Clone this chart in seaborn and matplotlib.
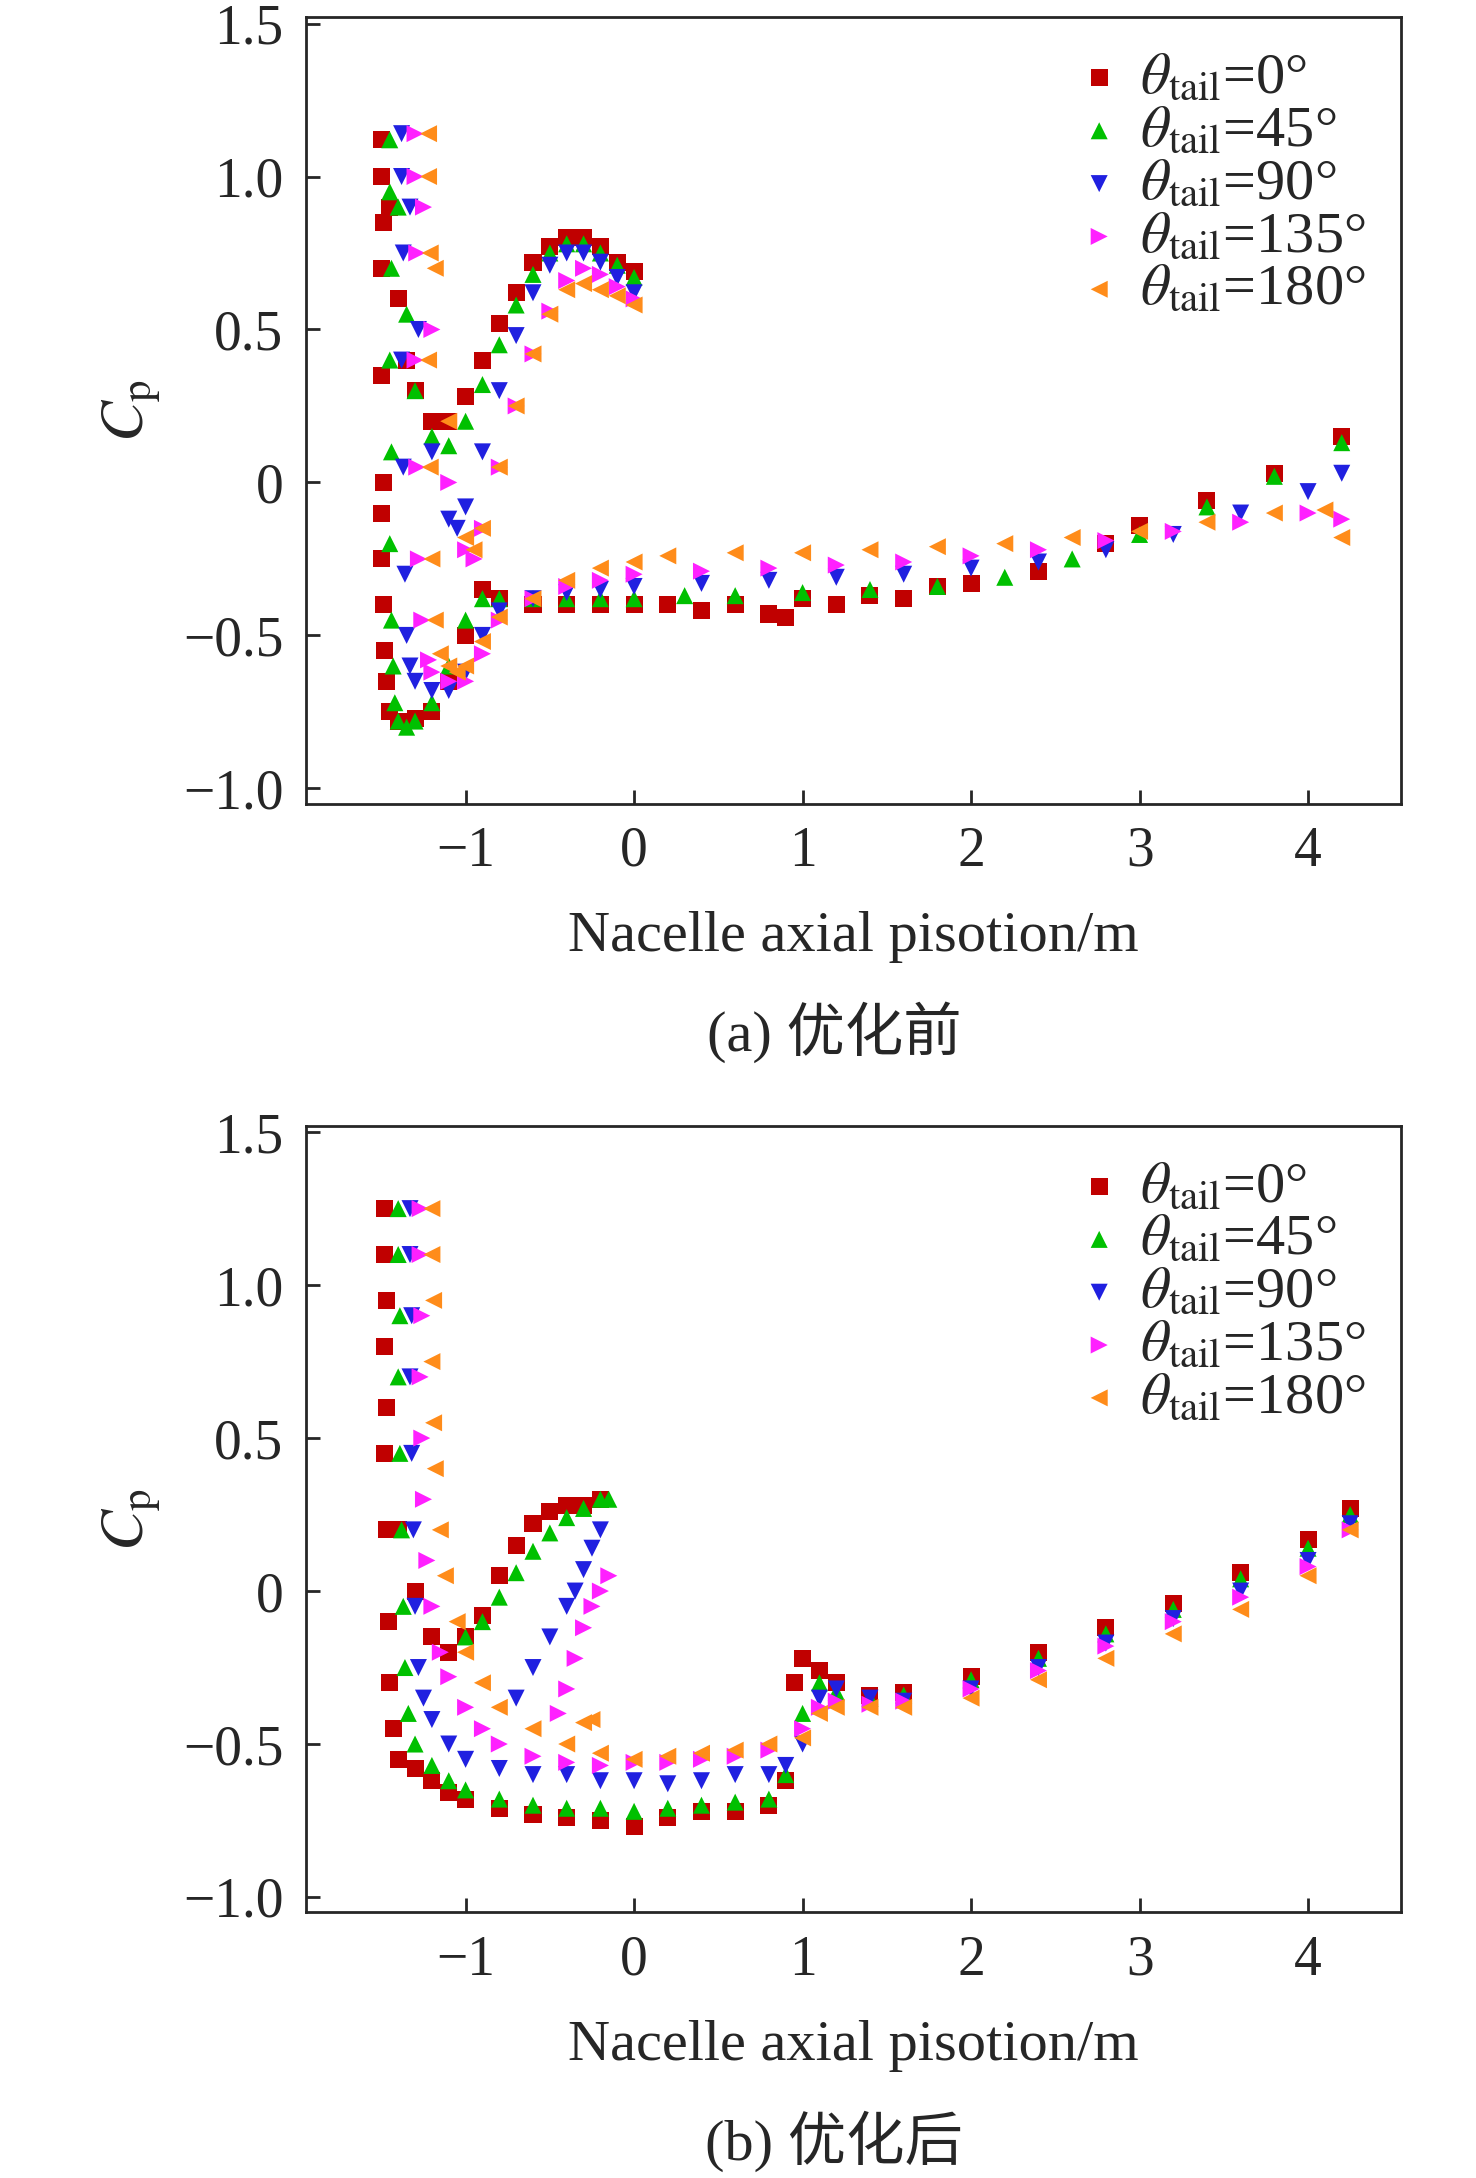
import numpy as np
import pandas as pd
import seaborn as sns
import matplotlib
matplotlib.use('Agg')
from matplotlib import pyplot as plt

sns.set_style('ticks')
plt.rcParams['font.family'] = ['Liberation Serif', 'Noto Sans CJK SC']
plt.rcParams['mathtext.fontset'] = 'stix'

angles = ['0', '45', '90', '135', '180']
colors = ['#c00000', '#00c000', '#2020e0', '#ff20ff', '#ff8c1a']
markers = ['s', '^', 'v', '>', '<']

# panel (a) before optimisation: x, y per angle
a_x = {
    '0': [-1.5, -1.5, -1.49, -1.5, -1.5, -1.49, -1.5, -1.5, -1.49, -1.48, -1.47,
          -1.45, -1.4, -1.3, -1.2, -1.1, -1.0, -0.9, -0.8, -0.6, -0.4, -0.2, 0.0, 0.2, 0.4, 0.6, 0.8, 0.9, 1.0, 1.2, 1.4, 1.6, 1.8, 2.0, 2.4, 2.8, 3.0, 3.4, 3.8, 4.2,
          -1.45, -1.4, -1.35, -1.3, -1.2, -1.1, -1.0, -0.9, -0.8, -0.7, -0.6, -0.5, -0.4, -0.3, -0.2, -0.1, 0.0],
    '45': [-1.45, -1.45, -1.44, -1.45, -1.44, -1.45, -1.44, -1.43, -1.42,
           -1.4, -1.35, -1.3, -1.2, -1.1, -1.0, -0.9, -0.8, -0.6, -0.4, -0.2, 0.0, 0.3, 0.6, 1.0, 1.4, 1.8, 2.2, 2.6, 3.0, 3.4, 3.8, 4.2,
           -1.4, -1.35, -1.3, -1.2, -1.1, -1.0, -0.9, -0.8, -0.7, -0.6, -0.5, -0.4, -0.3, -0.2, -0.1, 0.0],
    '90': [-1.38, -1.38, -1.37, -1.38, -1.37, -1.36, -1.35, -1.33,
           -1.3, -1.2, -1.1, -1.0, -0.9, -0.8, -0.6, -0.4, -0.2, 0.0, 0.4, 0.8, 1.2, 1.6, 2.0, 2.4, 2.8, 3.2, 3.6, 4.0, 4.2,
           -1.33, -1.28, -1.2, -1.1, -1.05, -1.0, -0.9, -0.8, -0.7, -0.6, -0.5, -0.4, -0.3, -0.2, -0.1, 0.0],
    '135': [-1.3, -1.3, -1.29, -1.3, -1.29, -1.28, -1.26, -1.22,
            -1.2, -1.1, -1.0, -0.9, -0.8, -0.6, -0.4, -0.2, 0.0, 0.4, 0.8, 1.2, 1.6, 2.0, 2.4, 2.8, 3.2, 3.6, 4.0, 4.2,
            -1.25, -1.2, -1.1, -1.0, -0.95, -0.9, -0.8, -0.7, -0.6, -0.5, -0.4, -0.3, -0.2, -0.1, 0.0],
    '180': [-1.22, -1.22, -1.21, -1.22, -1.21, -1.2, -1.18, -1.15,
            -1.1, -1.05, -1.0, -0.9, -0.8, -0.6, -0.4, -0.2, 0.0, 0.2, 0.6, 1.0, 1.4, 1.8, 2.2, 2.6, 3.0, 3.4, 3.8, 4.1, 4.2,
            -1.18, -1.1, -1.0, -0.95, -0.9, -0.8, -0.7, -0.6, -0.5, -0.4, -0.3, -0.2, -0.1, 0.0],
}
a_y = {
    '0': [1.12, 1.0, 0.85, 0.7, 0.35, 0.0, -0.1, -0.25, -0.4, -0.55, -0.65,
          -0.75, -0.78, -0.77, -0.75, -0.65, -0.5, -0.35, -0.38, -0.40, -0.40, -0.40, -0.40, -0.40, -0.42, -0.40, -0.43, -0.44, -0.38, -0.40, -0.37, -0.38, -0.34, -0.33, -0.29, -0.20, -0.14, -0.06, 0.03, 0.15,
          0.9, 0.6, 0.4, 0.3, 0.2, 0.2, 0.28, 0.4, 0.52, 0.62, 0.72, 0.77, 0.80, 0.80, 0.77, 0.72, 0.69],
    '45': [1.12, 0.95, 0.7, 0.4, 0.1, -0.2, -0.45, -0.6, -0.72,
           -0.78, -0.8, -0.78, -0.72, -0.6, -0.45, -0.38, -0.38, -0.38, -0.38, -0.38, -0.38, -0.37, -0.37, -0.36, -0.35, -0.34, -0.31, -0.25, -0.17, -0.08, 0.02, 0.13,
           0.9, 0.55, 0.3, 0.15, 0.12, 0.2, 0.32, 0.45, 0.58, 0.68, 0.75, 0.78, 0.78, 0.75, 0.71, 0.67],
    '90': [1.14, 1.0, 0.75, 0.4, 0.05, -0.3, -0.5, -0.6,
           -0.65, -0.68, -0.68, -0.62, -0.5, -0.42, -0.38, -0.36, -0.35, -0.34, -0.33, -0.32, -0.31, -0.3, -0.28, -0.26, -0.22, -0.17, -0.1, -0.03, 0.03,
           0.9, 0.5, 0.1, -0.12, -0.15, -0.08, 0.1, 0.3, 0.48, 0.62, 0.71, 0.75, 0.75, 0.72, 0.67, 0.62],
    '135': [1.14, 1.0, 0.75, 0.4, 0.05, -0.25, -0.45, -0.58,
            -0.62, -0.65, -0.65, -0.56, -0.45, -0.38, -0.34, -0.32, -0.3, -0.29, -0.28, -0.27, -0.26, -0.24, -0.22, -0.19, -0.16, -0.13, -0.1, -0.12,
            0.9, 0.5, 0.0, -0.22, -0.25, -0.15, 0.05, 0.25, 0.42, 0.56, 0.66, 0.7, 0.68, 0.64, 0.6],
    '180': [1.14, 1.0, 0.75, 0.4, 0.05, -0.25, -0.45, -0.56,
            -0.6, -0.62, -0.6, -0.52, -0.44, -0.38, -0.32, -0.28, -0.26, -0.24, -0.23, -0.23, -0.22, -0.21, -0.2, -0.18, -0.16, -0.13, -0.1, -0.09, -0.18,
            0.7, 0.2, -0.18, -0.22, -0.15, 0.05, 0.25, 0.42, 0.55, 0.63, 0.65, 0.63, 0.61, 0.58],
}

# panel (b) after optimisation
b_x = {
    '0': [-1.48, -1.48, -1.47, -1.48, -1.47, -1.48, -1.47, -1.46, -1.45, -1.43,
          -1.4, -1.3, -1.2, -1.1, -1.0, -0.8, -0.6, -0.4, -0.2, 0.0, 0.2, 0.4, 0.6, 0.8, 0.9, 0.95, 1.0, 1.1, 1.2, 1.4, 1.6, 2.0, 2.4, 2.8, 3.2, 3.6, 4.0, 4.25,
          -1.4, -1.3, -1.2, -1.1, -1.0, -0.9, -0.8, -0.7, -0.6, -0.5, -0.4, -0.3, -0.2],
    '45': [-1.4, -1.4, -1.39, -1.4, -1.39, -1.38, -1.37, -1.36, -1.34,
           -1.3, -1.2, -1.1, -1.0, -0.8, -0.6, -0.4, -0.2, 0.0, 0.2, 0.4, 0.6, 0.8, 0.9, 1.0, 1.1, 1.2, 1.4, 1.6, 2.0, 2.4, 2.8, 3.2, 3.6, 4.0, 4.25,
           -1.0, -0.9, -0.8, -0.7, -0.6, -0.5, -0.4, -0.3, -0.2, -0.15],
    '90': [-1.33, -1.33, -1.32, -1.33, -1.32, -1.31, -1.3, -1.28,
           -1.25, -1.2, -1.1, -1.0, -0.8, -0.6, -0.4, -0.2, 0.0, 0.2, 0.4, 0.6, 0.8, 0.9, 1.0, 1.1, 1.2, 1.4, 1.6, 2.0, 2.4, 2.8, 3.2, 3.6, 4.0, 4.25,
           -0.7, -0.6, -0.5, -0.4, -0.35, -0.3, -0.25, -0.2],
    '135': [-1.27, -1.27, -1.26, -1.27, -1.26, -1.25, -1.23, -1.2,
            -1.15, -1.1, -1.0, -0.9, -0.8, -0.6, -0.4, -0.2, 0.0, 0.2, 0.4, 0.6, 0.8, 1.0, 1.1, 1.2, 1.4, 1.6, 2.0, 2.4, 2.8, 3.2, 3.6, 4.0, 4.25,
            -0.45, -0.4, -0.35, -0.3, -0.25, -0.2, -0.15],
    '180': [-1.2, -1.2, -1.19, -1.2, -1.19, -1.18, -1.15, -1.12,
            -1.05, -1.0, -0.9, -0.8, -0.6, -0.4, -0.2, 0.0, 0.2, 0.4, 0.6, 0.8, 1.0, 1.1, 1.2, 1.4, 1.6, 2.0, 2.4, 2.8, 3.2, 3.6, 4.0, 4.25,
            -0.3, -0.25],
}
b_y = {
    '0': [1.25, 1.1, 0.95, 0.8, 0.6, 0.45, 0.2, -0.1, -0.3, -0.45,
          -0.55, -0.58, -0.62, -0.66, -0.68, -0.71, -0.73, -0.74, -0.75, -0.77, -0.74, -0.72, -0.72, -0.7, -0.62, -0.3, -0.22, -0.26, -0.3, -0.34, -0.33, -0.28, -0.2, -0.12, -0.04, 0.06, 0.17, 0.27,
          0.2, 0.0, -0.15, -0.2, -0.15, -0.08, 0.05, 0.15, 0.22, 0.26, 0.28, 0.28, 0.3],
    '45': [1.25, 1.1, 0.9, 0.7, 0.45, 0.2, -0.05, -0.25, -0.4,
           -0.5, -0.57, -0.62, -0.65, -0.68, -0.7, -0.71, -0.71, -0.72, -0.71, -0.7, -0.69, -0.68, -0.6, -0.4, -0.3, -0.33, -0.35, -0.34, -0.29, -0.22, -0.14, -0.06, 0.04, 0.14, 0.25,
           -0.15, -0.1, -0.02, 0.06, 0.13, 0.19, 0.24, 0.27, 0.3, 0.3],
    '90': [1.25, 1.1, 0.9, 0.7, 0.45, 0.2, -0.05, -0.25,
           -0.35, -0.42, -0.5, -0.55, -0.58, -0.6, -0.6, -0.62, -0.62, -0.63, -0.62, -0.6, -0.6, -0.57, -0.5, -0.35, -0.32, -0.35, -0.36, -0.32, -0.25, -0.17, -0.09, 0.0, 0.1, 0.22,
           -0.35, -0.25, -0.15, -0.05, 0.0, 0.07, 0.14, 0.2],
    '135': [1.25, 1.1, 0.9, 0.7, 0.5, 0.3, 0.1, -0.05,
            -0.2, -0.28, -0.38, -0.45, -0.5, -0.54, -0.56, -0.57, -0.56, -0.56, -0.55, -0.54, -0.52, -0.45, -0.38, -0.36, -0.37, -0.36, -0.32, -0.26, -0.18, -0.1, -0.02, 0.08, 0.2,
            -0.4, -0.32, -0.22, -0.12, -0.05, 0.0, 0.05],
    '180': [1.25, 1.1, 0.95, 0.75, 0.55, 0.4, 0.2, 0.05,
            -0.1, -0.2, -0.3, -0.38, -0.45, -0.5, -0.53, -0.55, -0.54, -0.53, -0.52, -0.5, -0.48, -0.4, -0.38, -0.38, -0.38, -0.35, -0.29, -0.22, -0.14, -0.06, 0.05, 0.2,
            -0.43, -0.42],
}


def make_frame(xs, ys):
    rows = []
    for ang in angles:
        for x, y in zip(xs[ang], ys[ang]):
            rows.append({'x': x, 'y': y, 'angle': ang})
    return pd.DataFrame(rows)


fig = plt.figure(figsize=(14.76, 21.78), dpi=100)
ax_a = fig.add_axes([0.207, 0.631, 0.742, 0.361])
ax_b = fig.add_axes([0.207, 0.122, 0.742, 0.361])

for ax, xs, ys, cap in [(ax_a, a_x, a_y, '(a) 优化前'), (ax_b, b_x, b_y, '(b) 优化后')]:
    df = make_frame(xs, ys)
    for ang, col, mk in zip(angles, colors, markers):
        sub = df[df['angle'] == ang]
        sns.scatterplot(data=sub, x='x', y='y', color=col, marker=mk, s=150,
                        edgecolor='none', ax=ax,
                        label=r'$\theta_{\rm tail}$=' + ang + '°')
    ax.set_xlim(-1.95, 4.55)
    ax.set_ylim(-1.05, 1.52)
    ax.set_xticks([-1, 0, 1, 2, 3, 4])
    ax.set_xticklabels(['−1', '0', '1', '2', '3', '4'])
    ax.set_yticks([-1.0, -0.5, 0, 0.5, 1.0, 1.5])
    ax.set_yticklabels(['−1.0', '−0.5', '0', '0.5', '1.0', '1.5'])
    ax.tick_params(direction='in', labelsize=40, length=10, width=2, pad=16)
    for sp in ax.spines.values():
        sp.set_linewidth(2)
    ax.set_xlabel('Nacelle axial pisotion/m', fontsize=42, labelpad=24)
    ax.set_ylabel(r'$C_{\rm p}$', fontsize=44, labelpad=14)
    ax.legend(loc='upper right', fontsize=42, frameon=False, handletextpad=0.1,
              labelspacing=0.0, markerscale=1.0, borderaxespad=0.2,
              handlelength=1.2)
    pos = ax.get_position()
    fig.text(0.565, pos.y0 - 0.105, cap, ha='center', va='center', fontsize=42)

fig.savefig('out.png', dpi=100)
